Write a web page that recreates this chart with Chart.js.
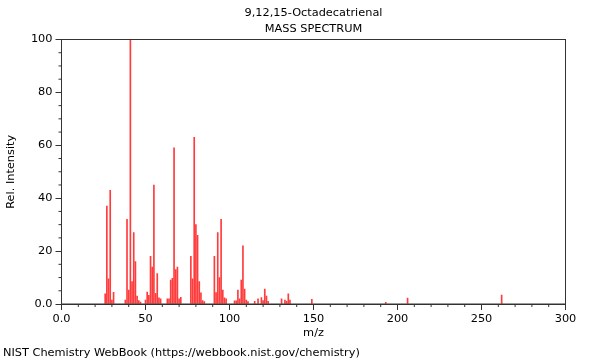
<!DOCTYPE html>
<html>
<head>
<meta charset="utf-8">
<script src="https://cdn.jsdelivr.net/npm/chart.js@4.4.1/dist/chart.umd.min.js"></script>
<style>
  html, body { margin: 0; padding: 0; background: #fff; }
  #wrap { width: 600px; height: 360px; }
</style>
</head>
<body>
<div id="wrap"><canvas id="spectrum" width="600" height="360"></canvas></div>
<script>
const mz = [26, 27, 28, 29, 30, 31, 38, 39, 40, 41, 42, 43, 44, 45, 46, 47,
  50, 51, 52, 53, 54, 55, 56, 57, 58, 59, 63, 64, 65, 66, 67, 68, 69, 70, 71,
  77, 78, 79, 80, 81, 82, 83, 84, 85, 91, 92, 93, 94, 95, 96, 97, 98,
  103, 104, 105, 106, 107, 108, 109, 110, 111, 115, 117, 119, 120, 121, 122, 123,
  131, 133, 134, 135, 136, 149, 193, 206, 262];
const intensity = [3.8, 37, 9.5, 43, 1.5, 4.4, 1.5, 32, 5.3, 100, 8.5, 27, 16, 3, 1.3, 0.7,
  1.5, 4.5, 3.3, 18, 14, 45, 4, 11.5, 2.3, 2, 2, 2, 9, 9.7, 59, 13, 14, 2, 2.5,
  18, 9.5, 63, 30, 26, 8.5, 4.2, 1.3, 0.9, 18, 4.3, 27, 10, 32, 5.3, 2.3, 2,
  1.2, 1.2, 5.3, 2, 9, 22, 5.6, 1.5, 0.9, 1, 2, 2.4, 1.3, 5.6, 3, 1,
  2, 1.5, 1, 3.8, 1.5, 1.8, 0.6, 2.2, 3.4];

const titleLines = ['9,12,15-Octadecatrienal', 'MASS SPECTRUM'];
const footerText = 'NIST Chemistry WebBook (https://webbook.nist.gov/chemistry)';

const xRange = [0, 300];
const xMajor = 50, xMinor = 10;
const yRange = [0, 100];
const yMajor = 20, yMinor = 5;

const FS = 11.33;
const fmtTick = v => (v === 0 ? '0.0' : String(v));

/* ── Cadre + graduations secondaires ─────────────────────────── */
const frameTicks = {
  id: 'frameTicks',
  afterDraw(chart) {
    const { ctx, chartArea: a, scales: { x, y } } = chart;
    ctx.save();
    ctx.strokeStyle = '#333';
    ctx.lineWidth = 1;
    ctx.strokeRect(a.left, a.top, a.right - a.left, a.bottom - a.top);
    ctx.beginPath();
    for (let v = xRange[0]; v <= xRange[1]; v += xMinor) {
      if (v % xMajor === 0) continue;
      const px = x.getPixelForValue(v);
      ctx.moveTo(px, a.bottom);
      ctx.lineTo(px, a.bottom + 3);
    }
    for (let v = yRange[0]; v <= yRange[1]; v += yMinor) {
      if (v % yMajor === 0) continue;
      const py = y.getPixelForValue(v);
      ctx.moveTo(a.left, py);
      ctx.lineTo(a.left - 3, py);
    }
    ctx.stroke();
    ctx.restore();
  },
};

Chart.defaults.font.family = '"DejaVu Sans", sans-serif';
Chart.defaults.font.size = FS;
Chart.defaults.color = '#000';

new Chart(document.getElementById('spectrum'), {
  type: 'bar',
  data: {
    datasets: [{
      data: mz.map((m, i) => ({ x: m, y: intensity[i] })),
      backgroundColor: '#ff3b3b',
      borderWidth: 0,
      barThickness: 1,
    }],
  },
  options: {
    responsive: false,
    animation: false,
    layout: { padding: { left: 3, right: 34.5, top: 0, bottom: 0 } },
    plugins: {
      legend: { display: false },
      tooltip: { enabled: false },
      title: {
        display: true, text: titleLines, fullSize: false,
        font: { size: FS, weight: 'normal', lineHeight: 16 / FS },
        padding: { top: 5, bottom: 2.5 }, color: '#000',
      },
      subtitle: {
        display: true, text: footerText, position: 'bottom', align: 'start',
        font: { size: FS, lineHeight: 1.2 }, padding: { top: 0, bottom: 0 }, color: '#000',
      },
    },
    scales: {
      x: {
        type: 'linear', min: xRange[0], max: xRange[1], offset: false,
        grid: { offset: false, drawOnChartArea: false, drawTicks: true, tickLength: 6, tickColor: '#333' },
        border: { color: '#333' },
        ticks: { stepSize: xMajor, autoSkip: false, maxRotation: 0, padding: 2.5, callback: fmtTick },
        title: { display: true, text: 'm/z', font: { size: FS, lineHeight: 1.2 }, padding: { top: 0, bottom: 6.6 } },
        afterFit: s => { s.height = 42.4; },
      },
      y: {
        min: yRange[0], max: yRange[1],
        grid: { drawOnChartArea: false, drawTicks: true, tickLength: 6, tickColor: '#333' },
        border: { color: '#333' },
        ticks: { stepSize: yMajor, padding: 3, callback: fmtTick },
        title: { display: true, text: 'Rel. Intensity', font: { size: FS, lineHeight: 1.2 }, padding: { top: 1.2, bottom: 0 } },
        afterFit: s => { s.width = 58.5; },
      },
    },
  },
  plugins: [frameTicks],
});
</script>
</body>
</html>
